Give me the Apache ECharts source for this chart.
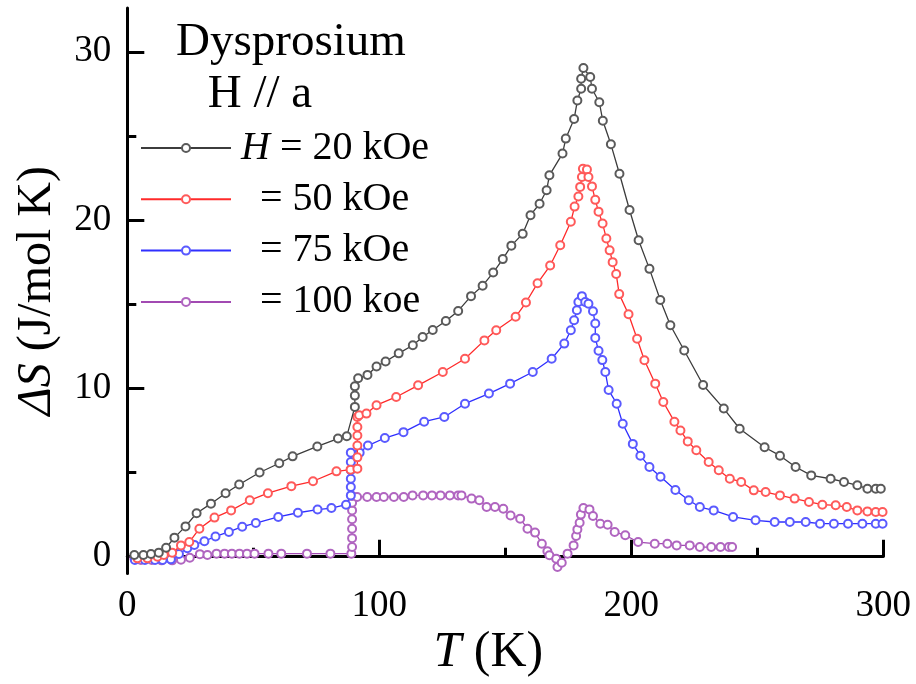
<!DOCTYPE html>
<html><head><meta charset="utf-8">
<script src="https://cdn.jsdelivr.net/npm/echarts@6/dist/echarts.min.js"></script>
<style>html,body{margin:0;padding:0;background:#fff}#c{width:916px;height:684px}</style>
</head><body><div id="c"></div>
<script>
// ---- data (T in K, dS in J/mol K) ----
const t20 = [2.8,6.4,9.4,12.5,15.4,18.7,23.1,27.5,33.2,39,44.4,52.5,60.3,65.6,75.4,83.6,87.1,90.3,90.3,90.3,91.6,95.3,98.9,102.5,107.7,113.3,117.2,121.2,126.4,131.3,136.4,141,145.2,149,152.4,156.9,160,163.6,166.4,167.5,172.7,174,177.3,178.6,180.1,180.1,181,183.7,184.4,187.3,188.7,191.9,195.3,199.3,202.9,207.2,211.5,215.5,221,228.5,236.7,243,252.9,259,265.2,271.4,279.1,284.4,289.7,293.7,297,299];
const s20 = [0.1,0.1,0.16,0.24,0.53,1.13,1.8,2.58,3.15,3.77,4.29,5.0,5.55,5.96,6.55,7.02,7.16,8.9,9.57,10.12,10.6,10.8,11.3,11.6,12.08,12.56,13.05,13.47,14.0,14.6,15.48,16.1,16.88,17.68,18.48,19.18,20.29,20.97,21.77,22.66,23.95,24.84,26.0,27.1,27.8,28.4,29.04,28.5,27.8,27.0,25.9,24.5,22.75,20.6,18.8,17.1,15.25,13.75,12.25,10.2,8.8,7.6,6.5,6.0,5.33,4.83,4.63,4.44,4.24,4.04,4.04,4.04];

const t50 = [4,8,12,14.5,17.8,21.3,24.6,28.6,34.6,41.2,48.6,55.8,65.1,73.7,83,88.6,91.3,91.3,91.3,91.3,91.3,91.3,92,94.9,98.9,106.7,115.4,125.2,134,141.7,146.4,154.1,158.2,162.8,167.8,171.8,176,177.5,179,179.7,180.4,180.8,182.4,183,184.4,185.7,187,188.6,190.1,191.4,192.6,194,195.2,198.9,202.3,205.2,209.5,212.7,217.1,219.5,222.4,225.8,230.7,234.7,239.1,243.6,248.6,253.3,259,264.8,270.5,275.8,281.1,285.5,289.7,293.7,297,299.7];
const s50 = [-0.1,-0.1,0,0.1,0.24,0.67,0.87,1.66,2.32,2.75,3.35,3.77,4.19,4.48,5.07,5.17,5.23,5.9,6.6,7.2,7.7,8.3,8.4,8.5,9.0,9.49,10.18,10.97,11.76,12.85,13.45,14.25,15.1,16.25,17.3,18.5,19.9,20.8,21.4,21.97,22.56,23.05,23.0,22.56,22.0,21.2,20.5,19.8,18.9,18.2,17.5,16.8,15.6,14.4,12.95,11.67,10.28,9.19,8.02,7.5,6.85,6.32,5.63,5.13,4.63,4.44,3.94,3.84,3.64,3.45,3.25,3.09,3.05,2.95,2.75,2.69,2.65,2.65];

const t75 = [3,7,11,14,17.3,20.5,23.8,26.6,30.6,35,40.3,45.6,51,59.9,67.7,75.5,81,86.8,88.7,88.7,88.7,88.7,88.7,88.7,92.2,95.5,102.2,109.6,117.8,125.8,134,143.5,151.9,160.9,168.4,173.4,176,177.3,178.4,179,180.4,181.7,183,184.8,185.7,185.7,187,188.5,189.7,191,194.2,196.6,200.6,203.6,207.2,211.6,217.5,222.8,227.2,232.7,240.4,249.3,256.9,262.9,269.2,274.9,280.4,286,291.7,297,299.7];
const s75 = [-0.2,-0.2,-0.2,-0.2,-0.16,0.16,0.5,0.7,0.92,1.2,1.47,1.78,2.0,2.36,2.61,2.8,2.89,3.09,3.64,4.14,4.63,5.13,5.63,6.18,6.18,6.6,7.05,7.4,8.02,8.3,9.09,9.69,10.28,10.97,11.76,12.66,13.45,14.05,14.64,15.13,15.48,15.13,15.03,14.58,13.85,13.0,12.23,11.68,10.97,9.9,9.09,7.9,6.7,6.0,5.33,4.75,3.96,3.35,2.95,2.75,2.36,2.16,2.06,2.06,2.06,1.96,1.96,1.96,1.96,1.96,1.96];

const t100 = [2.8,5.4,9.7,13.6,17.8,21.3,24.8,28.8,31.8,35.4,38.6,41.5,44.5,47.5,50.5,56,61.1,71.3,80.6,88.9,89.2,89.2,89.2,89.2,89.2,89.2,89.2,91.2,95.2,98.9,101.8,105.8,109.7,113.2,117.4,120.9,124.3,128,131.3,132.6,136.6,139.7,142.6,145.9,149.2,152.1,155.9,158.8,161.8,164.5,166.7,167.5,170.2,170.7,172.4,174.7,177.1,178.1,178.6,179.5,180,181,183.4,184.8,187.7,190.6,193.4,197.6,202.7,209.3,214.3,218,223.2,227.2,231.7,235.4,238.7,240];
const s100 = [-0.08,-0.2,-0.2,-0.22,-0.22,-0.18,-0.06,0.15,0.1,0.18,0.18,0.18,0.18,0.18,0.18,0.18,0.18,0.18,0.18,0.18,0.57,1.1,1.66,2.22,2.75,3.2,3.6,3.55,3.55,3.55,3.55,3.55,3.55,3.64,3.64,3.64,3.64,3.64,3.64,3.64,3.45,3.35,2.95,2.95,2.85,2.45,2.26,1.66,1.43,0.77,0.32,0.08,-0.12,-0.61,-0.36,0.18,0.67,1.23,1.62,2.02,2.5,2.89,2.81,2.42,1.96,1.9,1.47,1.27,0.87,0.77,0.77,0.67,0.67,0.57,0.57,0.57,0.57,0.57];

const fieldLabels = ['20 kOe','50 kOe','75 kOe','100 koe'];
const xTickValues = [0,100,200,300];
const yTickValues = [0,10,20,30];
const yMinorTickValues = [5,15,25];
const titleLines = ['Dysprosium','H // a'];

// ---- styles ----
const FONT = '"Liberation Serif","Times New Roman",Times,serif';
const lineColors = ['#3c3c3c','#ff2a2a','#2f2fff','#a24ab2'];
const markColors = ['#5a5a5a','#ff5a5a','#5a5aff','#b065c0'];
const seriesT = [t20,t50,t75,t100];
const seriesS = [s20,s50,s75,s100];
const names = fieldLabels.map((f,i)=> (i===0 ? 'H = ' : '= ') + f);

const chart = echarts.init(document.getElementById('c'), null, {renderer:'canvas'});
const tickStyle = {color:'#000', width:3};
const option = {
  animation:false,
  backgroundColor:'#fff',
  grid:{left:127.3, right:32.7, top:8, bottom:110.5, outerBoundsMode:'none', containLabel:false},
  xAxis:{
    type:'value', min:0, max:300, interval:100,
    axisLine:{lineStyle:{color:'#000', width:3}},
    axisTick:{inside:true, length:17, lineStyle:tickStyle},
    minorTick:{show:true, splitNumber:2, length:9, lineStyle:tickStyle},
    splitLine:{show:false}, minorSplitLine:{show:false},
    axisLabel:{fontFamily:FONT, fontSize:37, color:'#000', margin:14,
      customValues:xTickValues},
    name:'{i|T} (K)', nameLocation:'middle', nameGap:54, nameMoveOverlap:false,
    nameTextStyle:{fontFamily:FONT, fontSize:50, color:'#000', padding:[0,34,0,0],
      rich:{i:{fontFamily:FONT, fontSize:50, fontStyle:'italic', color:'#000'}}}
  },
  yAxis:[{
    type:'value', min:-1, max:32.6,
    axisLine:{show:true, lineStyle:{color:'#000', width:3}},
    axisTick:{show:true, inside:true, length:17, customValues:yTickValues, lineStyle:tickStyle},
    axisLabel:{fontFamily:FONT, fontSize:37, color:'#000', margin:16, customValues:yTickValues},
    splitLine:{show:false},
    name:'{i|ΔS} (J/mol K)', nameLocation:'middle', nameGap:66, nameMoveOverlap:false,
    nameTextStyle:{fontFamily:FONT, fontSize:48, color:'#000', padding:[0,0,0,0],
      rich:{i:{fontFamily:FONT, fontSize:48, fontStyle:'italic', color:'#000'}}}
  },{
    type:'value', min:-1, max:32.6, position:'left',
    axisLine:{show:false},
    axisTick:{show:true, inside:true, length:9, customValues:yMinorTickValues, lineStyle:tickStyle},
    axisLabel:{show:false}, splitLine:{show:false}
  }],
  legend:{
    orient:'vertical', left:140, top:128, padding:0, itemWidth:90, itemHeight:10, itemGap:11.3,
    data:names,
    textStyle:{fontFamily:FONT, fontSize:40, color:'#000', lineHeight:40,
      rich:{
        i:{fontFamily:FONT, fontSize:40, fontStyle:'italic', color:'#000', lineHeight:40, padding:[0,0,0,5]},
        e:{fontFamily:FONT, fontSize:40, color:'#000', lineHeight:40, padding:[0,0,0,24]}
      }},
    formatter:function(n){ return n.indexOf('H = ')===0 ? '{i|H} = ' + n.slice(4) : '{e|' + n + '}'; }
  },
  graphic:[
    {type:'text', x:291, y:43, style:{text:titleLines[0], textAlign:'center', textVerticalAlign:'middle', font:'47px '+FONT, fill:'#000'}},
    {type:'text', x:260, y:95, style:{text:titleLines[1], textAlign:'center', textVerticalAlign:'middle', font:'47px '+FONT, fill:'#000'}}
  ],
  series: names.map((n,i)=>({
    name:n, type:'line', yAxisIndex:0,
    data: seriesT[i].map((t,k)=>[t, seriesS[i][k]]),
    symbol:'emptyCircle', symbolSize:8,
    color: markColors[i],
    itemStyle:{color:markColors[i], borderWidth:1.2},
    lineStyle:{color:lineColors[i], width:1.3},
    z: 10-i
  }))
};
chart.setOption(option);
</script>
</body></html>
